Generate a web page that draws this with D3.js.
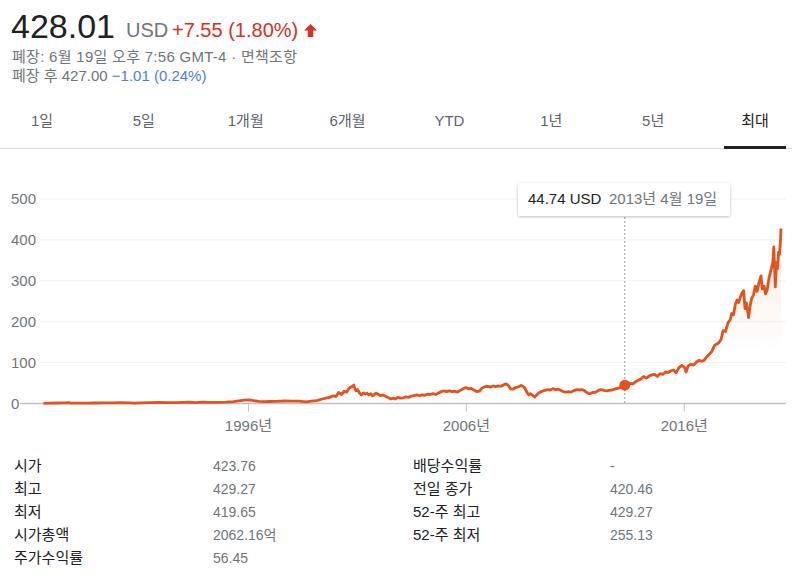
<!DOCTYPE html>
<html>
<head>
<meta charset="utf-8">
<script src="https://cdn.jsdelivr.net/npm/d3@7"></script>
<style>
    body { margin: 0; background: #fff; }
    svg text { font-family: Arial, "Liberation Sans", "Noto Sans CJK KR", sans-serif; }
</style>
</head>
<body>
<svg id="page" width="792" height="575"></svg>
<script>
// price history (USD)
let series = [
    ["1986-08-14", 0.45], ["1986-12-01", 0.7], ["1987-04-01", 1.2], ["1987-08-01", 1.6],
    ["1987-10-15", 1.9], ["1987-11-15", 0.9], ["1988-03-01", 1.1], ["1988-08-01", 0.9],
    ["1989-01-01", 1.2], ["1989-06-01", 1.5], ["1989-10-01", 1.7], ["1990-03-01", 1.9],
    ["1990-08-01", 1.6], ["1990-10-15", 1.1], ["1991-02-01", 1.5], ["1991-07-01", 2.0],
    ["1991-12-01", 2.6], ["1992-04-01", 2.2], ["1992-09-01", 1.9], ["1993-01-01", 2.7],
    ["1993-05-01", 3.1], ["1993-08-01", 2.1], ["1993-12-01", 3.3], ["1994-04-01", 2.6],
    ["1994-09-01", 2.9], ["1995-01-01", 3.6], ["1995-05-01", 4.8], ["1995-08-01", 6.5],
    ["1995-11-01", 8.3], ["1996-01-15", 8.8], ["1996-04-01", 7.0], ["1996-07-01", 5.1],
    ["1996-10-01", 4.4], ["1997-01-01", 4.9], ["1997-05-01", 5.3], ["1997-09-01", 6.1],
    ["1998-01-01", 5.6], ["1998-05-01", 6.0], ["1998-09-01", 4.2], ["1998-12-01", 5.8],
    ["1999-03-01", 7.2], ["1999-06-01", 11], ["1999-08-01", 13], ["1999-10-01", 15],
    ["1999-12-01", 19], ["2000-01-15", 17], ["2000-03-01", 27], ["2000-04-15", 22],
    ["2000-06-01", 30], ["2000-07-15", 28], ["2000-08-15", 36], ["2000-09-15", 40],
    ["2000-10-20", 42], ["2000-11-10", 45], ["2000-11-25", 38], ["2000-12-15", 31],
    ["2001-01-15", 34], ["2001-02-15", 25], ["2001-03-20", 21], ["2001-04-20", 26],
    ["2001-05-20", 23], ["2001-06-20", 25], ["2001-07-20", 21], ["2001-08-20", 24],
    ["2001-09-20", 19], ["2001-10-20", 22], ["2001-11-20", 25], ["2001-12-20", 23],
    ["2002-02-01", 19], ["2002-03-15", 21], ["2002-05-01", 17], ["2002-06-15", 14],
    ["2002-07-25", 11], ["2002-09-01", 13], ["2002-10-10", 11], ["2002-11-15", 15],
    ["2003-01-01", 13], ["2003-02-15", 14], ["2003-04-01", 16], ["2003-05-15", 15],
    ["2003-07-01", 18], ["2003-08-15", 19], ["2003-10-01", 21], ["2003-11-15", 19],
    ["2004-01-01", 21], ["2004-02-15", 20], ["2004-04-01", 23], ["2004-05-15", 22],
    ["2004-07-01", 24], ["2004-08-15", 22], ["2004-10-01", 26], ["2004-11-15", 29],
    ["2005-01-01", 31], ["2005-02-15", 29], ["2005-04-01", 31], ["2005-05-15", 29],
    ["2005-07-01", 30], ["2005-08-15", 28], ["2005-10-01", 32], ["2005-11-15", 36],
    ["2006-01-01", 39], ["2006-02-15", 36], ["2006-04-01", 37], ["2006-05-15", 33],
    ["2006-07-01", 29], ["2006-08-15", 30], ["2006-10-01", 38], ["2006-11-15", 41],
    ["2007-01-01", 42], ["2007-02-15", 40], ["2007-04-01", 43], ["2007-05-15", 41],
    ["2007-07-01", 43], ["2007-08-15", 42], ["2007-10-01", 46], ["2007-11-10", 48],
    ["2007-12-15", 44], ["2008-01-20", 36], ["2008-03-01", 35], ["2008-04-15", 39],
    ["2008-06-01", 41], ["2008-07-15", 44], ["2008-08-15", 42], ["2008-09-20", 37],
    ["2008-10-15", 29], ["2008-11-20", 21], ["2008-12-20", 24], ["2009-02-01", 19],
    ["2009-03-05", 16], ["2009-04-15", 23], ["2009-05-20", 27], ["2009-07-01", 30],
    ["2009-08-15", 32], ["2009-10-01", 34], ["2009-11-15", 33], ["2010-01-01", 36],
    ["2010-02-15", 34], ["2010-04-01", 35], ["2010-05-15", 32], ["2010-06-20", 29],
    ["2010-08-01", 28], ["2010-09-15", 29], ["2010-11-01", 28], ["2010-12-15", 31],
    ["2011-02-01", 34], ["2011-03-15", 33], ["2011-05-01", 34], ["2011-06-15", 31],
    ["2011-08-10", 25], ["2011-09-20", 24], ["2011-11-01", 28], ["2011-12-15", 27],
    ["2012-02-01", 32], ["2012-03-15", 34], ["2012-05-01", 32], ["2012-06-15", 31],
    ["2012-08-01", 32], ["2012-09-15", 33], ["2012-11-01", 35], ["2012-12-15", 37],
    ["2013-02-01", 39], ["2013-03-15", 43], ["2013-04-19", 44.74], ["2013-06-01", 45],
    ["2013-07-15", 49], ["2013-09-01", 48], ["2013-10-15", 53], ["2013-12-01", 57],
    ["2014-01-15", 60], ["2014-03-01", 66], ["2014-04-15", 62], ["2014-06-01", 67],
    ["2014-07-15", 70], ["2014-09-01", 71], ["2014-10-15", 66], ["2014-12-01", 73],
    ["2015-01-15", 71], ["2015-03-01", 77], ["2015-04-15", 76], ["2015-06-01", 80],
    ["2015-07-15", 82], ["2015-08-25", 75], ["2015-10-15", 88], ["2015-12-01", 93],
    ["2016-01-15", 88], ["2016-02-10", 77], ["2016-03-15", 92], ["2016-05-01", 96],
    ["2016-06-15", 94], ["2016-08-01", 101], ["2016-09-15", 106], ["2016-10-20", 103],
    ["2016-12-01", 105], ["2017-01-15", 113], ["2017-03-01", 120], ["2017-04-15", 127],
    ["2017-06-01", 142], ["2017-07-15", 146], ["2017-08-15", 149], ["2017-09-20", 157],
    ["2017-10-20", 178], ["2017-12-01", 176], ["2018-01-15", 198], ["2018-02-20", 205],
    ["2018-03-15", 220], ["2018-04-15", 217], ["2018-05-15", 242], ["2018-06-15", 253],
    ["2018-07-10", 247], ["2018-08-15", 263], ["2018-09-10", 272], ["2018-10-01", 276],
    ["2018-10-25", 232], ["2018-11-15", 246], ["2018-12-24", 210], ["2019-01-15", 236],
    ["2019-02-15", 258], ["2019-03-15", 265], ["2019-04-15", 287], ["2019-05-15", 274],
    ["2019-06-15", 295], ["2019-07-20", 312], ["2019-08-10", 280], ["2019-09-10", 287],
    ["2019-10-03", 268], ["2019-11-01", 278], ["2019-12-01", 307], ["2020-01-10", 330],
    ["2020-02-03", 345], ["2020-02-19", 383], ["2020-03-16", 285], ["2020-03-25", 318],
    ["2020-04-08", 345], ["2020-04-21", 330], ["2020-05-10", 370], ["2020-05-26", 365],
    ["2020-06-10", 398], ["2020-06-19", 428]
];

let yTicks = [0, 100, 200, 300, 400, 500];
let xTicks = ["1996-01-01", "2006-01-01", "2016-01-01"];
let tabs = ["1일", "5일", "1개월", "6개월", "YTD", "1년", "5년", "최대"];
let hover = { date: "2013-04-19", price: 44.74, label: "2013년 4월 19일" };

let statLabelsLeft = ["시가", "최고", "최저", "시가총액", "주가수익률"];
let statValuesLeft = ["423.76", "429.27", "419.65", "2062.16억", "56.45"];
let statLabelsRight = ["배당수익률", "전일 종가", "52-주 최고", "52-주 최저"];
let statValuesRight = ["-", "420.46", "429.27", "255.13"];

const parseDate = d3.timeParse("%Y-%m-%d");
const svg = d3.select("#page");

drawHeader();
drawTabs();
drawChart();
drawStats();

function drawHeader() {
    svg.append("text").attr("x", 11).attr("y", 38)
        .attr("font-size", 34).attr("fill", "#202124").text("428.01");
    svg.append("text").attr("x", 126).attr("y", 37)
        .attr("font-size", 20).attr("fill", "#70757a").text("USD");
    svg.append("text").attr("x", 172).attr("y", 37)
        .attr("font-size", 20).attr("fill", "#d93025").text("+7.55 (1.80%)");
    // up arrow
    svg.append("path")
        .attr("d", "M310.5,24 L317,30.5 L313.2,30.5 L313.2,37 L307.8,37 L307.8,30.5 L304,30.5 Z")
        .attr("fill", "#d93025");

    svg.append("text").attr("x", 12).attr("y", 62)
        .attr("font-size", 15).attr("fill", "#70757a")
        .attr("textLength", 285)
        .text("폐장: 6월 19일 오후 7:56 GMT-4 · 면책조항");
    let t = svg.append("text").attr("x", 12).attr("y", 81).attr("font-size", 15);
    t.append("tspan").attr("fill", "#70757a").text("폐장 후 427.00 ");
    t.append("tspan").attr("fill", "#4a7fdb").text("−1.01 (0.24%)");
}

function drawTabs() {
    let tabX = d3.scalePoint().domain(tabs).range([42, 755]);
    svg.selectAll("text.tab")
        .data(tabs)
        .enter()
        .append("text")
        .attr("class", "tab")
        .attr("x", d => tabX(d))
        .attr("y", 126)
        .attr("text-anchor", "middle")
        .attr("font-size", 15)
        .attr("fill", d => d == "최대" ? "#202124" : "#5f6368")
        .text(d => d);

    svg.append("line").attr("x1", 0).attr("x2", 792).attr("y1", 148.5).attr("y2", 148.5)
        .attr("stroke", "#dadce0");
    svg.append("rect").attr("x", tabX("최대") - 31).attr("y", 146).attr("width", 62).attr("height", 3)
        .attr("fill", "#202124");
}

function drawChart() {
    let data = series.map(d => ({ date: parseDate(d[0]), price: d[1] }));

    let x = d3.scaleTime()
        .domain([parseDate("1986-08-14"), parseDate("2020-06-19")])
        .range([43.5, 781]);
    let y = d3.scaleLinear().domain([0, 500]).range([403.5, 199]);

    // gridlines + y labels
    svg.selectAll("line.grid")
        .data(yTicks.filter(v => v > 0))
        .enter()
        .append("line")
        .attr("class", "grid")
        .attr("x1", 40).attr("x2", 786)
        .attr("y1", d => y(d)).attr("y2", d => y(d))
        .attr("stroke", "#f1f3f4");
    svg.selectAll("text.ylab")
        .data(yTicks)
        .enter()
        .append("text")
        .attr("class", "ylab")
        .attr("x", 11)
        .attr("y", d => y(d) + 5)
        .attr("font-size", 15)
        .attr("fill", "#70757a")
        .text(d => d);

    // area fill fading downward
    let defs = svg.append("defs");
    let grad = defs.append("linearGradient")
        .attr("id", "fade")
        .attr("gradientUnits", "userSpaceOnUse")
        .attr("x1", 0).attr("x2", 0)
        .attr("y1", y(430)).attr("y2", y(130));
    grad.append("stop").attr("offset", 0).attr("stop-color", "#e6511c").attr("stop-opacity", 0.14);
    grad.append("stop").attr("offset", 1).attr("stop-color", "#e6511c").attr("stop-opacity", 0);

    let area = d3.area().x(d => x(d.date)).y0(y(0)).y1(d => y(d.price));
    svg.append("path").datum(data).attr("d", area).attr("fill", "url(#fade)");

    // x axis
    svg.append("line").attr("x1", 20).attr("x2", 786).attr("y1", y(0)).attr("y2", y(0))
        .attr("stroke", "#bdc1c6").attr("stroke-width", 1.5);
    let ax = svg.append("g")
        .attr("transform", `translate(0,${y(0)})`)
        .call(d3.axisBottom(x)
            .tickValues(xTicks.map(parseDate))
            .tickSize(8)
            .tickFormat(d => d3.timeFormat("%Y")(d) + "년"));
    ax.select(".domain").remove();
    ax.selectAll(".tick line").attr("stroke", "#bdc1c6");
    ax.selectAll(".tick text")
        .attr("font-size", 15)
        .attr("fill", "#70757a")
        .attr("dy", "1.1em")
        .style("font-family", 'Arial, "Liberation Sans", "Noto Sans CJK KR", sans-serif');

    // price line
    let line = d3.line().x(d => x(d.date)).y(d => y(d.price));
    svg.append("path").datum(data)
        .attr("d", line)
        .attr("fill", "none")
        .attr("stroke", "#e6511c")
        .attr("stroke-width", 2.8)
        .attr("stroke-linejoin", "round");

    // hover marker + tooltip
    let hx = x(parseDate(hover.date));
    svg.append("line").attr("x1", hx).attr("x2", hx).attr("y1", 217).attr("y2", y(0))
        .attr("stroke", "#9aa0a6").attr("stroke-dasharray", "2,2");
    svg.append("circle").attr("cx", hx).attr("cy", y(hover.price)).attr("r", 5.5)
        .attr("fill", "#e6511c");

    let shadow = defs.append("filter").attr("id", "shadow")
        .attr("x", "-10%").attr("y", "-30%").attr("width", "120%").attr("height", "160%");
    shadow.append("feDropShadow").attr("dx", 0).attr("dy", 1).attr("stdDeviation", 1.5)
        .attr("flood-color", "#000").attr("flood-opacity", 0.25);
    svg.append("rect").attr("x", 518).attr("y", 183).attr("width", 212).attr("height", 33)
        .attr("rx", 2).attr("fill", "#fff").attr("filter", "url(#shadow)");
    let tt = svg.append("text").attr("x", 528).attr("y", 204).attr("font-size", 15);
    tt.append("tspan").attr("fill", "#202124").text(hover.price + " USD");
    tt.append("tspan").attr("x", 609).attr("fill", "#70757a").text(hover.label);
}

function drawStats() {
    let rowY = d3.scaleLinear().domain([0, 4]).range([471, 563]);
    let cols = [
        { x: 14, items: statLabelsLeft, color: "#202124", size: 15 },
        { x: 213, items: statValuesLeft, color: "#70757a", size: 14 },
        { x: 413, items: statLabelsRight, color: "#202124", size: 15 },
        { x: 610, items: statValuesRight, color: "#70757a", size: 14 }
    ];
    cols.forEach(c => {
        svg.append("g").selectAll("text")
            .data(c.items)
            .enter()
            .append("text")
            .attr("x", c.x)
            .attr("y", (d, i) => rowY(i))
            .attr("font-size", c.size)
            .attr("fill", c.color)
            .text(d => d);
    });
}
</script>
</body>
</html>
